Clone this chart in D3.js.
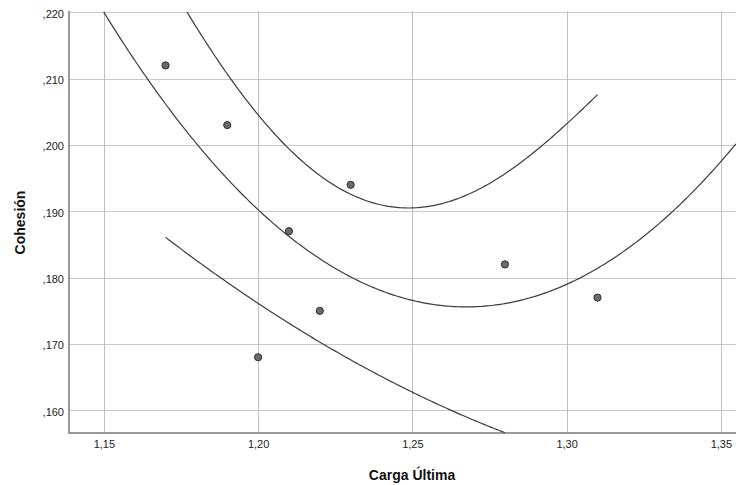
<!DOCTYPE html>
<html>
<head>
<meta charset="utf-8">
<script src="https://cdn.jsdelivr.net/npm/d3@7"></script>
<style>
  html, body { margin: 0; padding: 0; background: #fff; }
  svg { display: block; font-family: "Liberation Sans", Arial, sans-serif; }
</style>
</head>
<body>
<svg id="chart" width="736" height="485"></svg>
<script>
// Observations: Carga Última (x) vs Cohesión (y)
const cargaUltima = [1.17, 1.19, 1.20, 1.21, 1.22, 1.23, 1.28, 1.31];
const cohesion    = [0.212, 0.203, 0.168, 0.187, 0.175, 0.194, 0.182, 0.177];

// Upper reference curve (sampled values)
const upperX = [1.177, 1.191, 1.200, 1.209, 1.227, 1.248, 1.259, 1.275, 1.288, 1.300, 1.310];
const upperY = [0.2200, 0.2099, 0.2048, 0.1999, 0.1931, 0.1904, 0.1912, 0.1945, 0.1982, 0.2030, 0.2077];
const upperRange = [1.170, 1.310];

// Lower reference curve (sampled values)
const lowerX = [1.170, 1.187, 1.200, 1.219, 1.250, 1.262, 1.280];
const lowerY = [0.1863, 0.1799, 0.1761, 0.1707, 0.1629, 0.1600, 0.1566];
const lowerRange = [1.170, 1.280];

// Axis ticks
const xTicks = [1.15, 1.20, 1.25, 1.30, 1.35];
const xTickLabels = ["1,15", "1,20", "1,25", "1,30", "1,35"];
const yTicks = [0.160, 0.170, 0.180, 0.190, 0.200, 0.210, 0.220];
const yTickLabels = [",160", ",170", ",180", ",190", ",200", ",210", ",220"];

const xTitle = "Carga Última";
const yTitle = "Cohesión";

const svg = d3.select("#chart");
const plot = { left: 69, right: 736, top: 12, bottom: 433 };

const x = d3.scaleLinear().domain([1.1387, 1.3549]).range([plot.left, plot.right]);
const y = d3.scaleLinear().domain([0.15658, 0.22005]).range([plot.bottom, plot.top]);

svg.append("defs").append("clipPath").attr("id", "plotClip")
  .append("rect")
  .attr("x", plot.left).attr("y", plot.top)
  .attr("width", plot.right - plot.left).attr("height", plot.bottom - plot.top);

// Gridlines
const grid = svg.append("g");
grid.selectAll("line.h").data(yTicks).join("line")
  .attr("x1", plot.left).attr("x2", plot.right)
  .attr("y1", d => Math.round(y(d)) + 0.5).attr("y2", d => Math.round(y(d)) + 0.5)
  .attr("stroke", "#c8c8c8").attr("stroke-width", 1);
grid.selectAll("line.v").data(xTicks).join("line")
  .attr("y1", plot.top - 1).attr("y2", plot.bottom)
  .attr("x1", d => Math.round(x(d)) + 0.5).attr("x2", d => Math.round(x(d)) + 0.5)
  .attr("stroke", "#c0c0c0").attr("stroke-width", 1);

// Axes: tick labels from the axis generators, plain axis lines
const xAxis = d3.axisBottom(x).tickValues(xTicks)
  .tickFormat((d, i) => xTickLabels[i]).tickSize(0).tickPadding(7);
const yAxis = d3.axisLeft(y).tickValues(yTicks)
  .tickFormat((d, i) => yTickLabels[i]).tickSize(0).tickPadding(5);

const gx = svg.append("g").attr("transform", `translate(0,${plot.bottom})`).call(xAxis);
const gy = svg.append("g").attr("transform", `translate(${plot.left},0)`).call(yAxis);
[gx, gy].forEach(g => {
  g.select(".domain").remove();
  g.selectAll("text").attr("font-family", "Liberation Sans, Arial, sans-serif")
    .attr("font-size", 11).attr("fill", "#222");
});
gy.selectAll("text").attr("dy", "0.45em");

svg.append("line")
  .attr("x1", plot.left).attr("x2", plot.left)
  .attr("y1", plot.top - 1).attr("y2", plot.bottom + 1)
  .attr("stroke", "#9a9a9a").attr("stroke-width", 2);
svg.append("line")
  .attr("x1", plot.left - 1).attr("x2", plot.right)
  .attr("y1", plot.bottom).attr("y2", plot.bottom)
  .attr("stroke", "#9a9a9a").attr("stroke-width", 2);

// Polynomial least-squares fit of a given degree
function polyFit(xs, ys, degree) {
  const m = degree + 1, x0 = d3.mean(xs);
  const A = d3.range(m).map(() => new Array(m + 1).fill(0));
  xs.forEach((xv, i) => {
    const u = (xv - x0) * 100;
    for (let r = 0; r < m; r++) {
      for (let c = 0; c < m; c++) A[r][c] += Math.pow(u, r + c);
      A[r][m] += Math.pow(u, r) * ys[i];
    }
  });
  for (let c = 0; c < m; c++) {
    for (let r = c + 1; r < m; r++) {
      const f = A[r][c] / A[c][c];
      for (let k = c; k <= m; k++) A[r][k] -= f * A[c][k];
    }
  }
  const b = new Array(m).fill(0);
  for (let r = m - 1; r >= 0; r--) {
    let v = A[r][m];
    for (let k = r + 1; k < m; k++) v -= A[r][k] * b[k];
    b[r] = v / A[r][r];
  }
  return xv => { const u = (xv - x0) * 100; return b.reduce((s, bk, k) => s + bk * Math.pow(u, k), 0); };
}

const samples = (lo, hi, n) => d3.range(n + 1).map(i => lo + (hi - lo) * i / n);

const fitMain  = polyFit(cargaUltima, cohesion, 2);
const fitUpper = polyFit(upperX, upperY, 4);
const fitLower = polyFit(lowerX, lowerY, 2);

const curves = svg.append("g").attr("clip-path", "url(#plotClip)")
  .attr("fill", "none").attr("stroke", "#3c3c3c").attr("stroke-width", 1.2);

const drawFit = (f, xs) => curves.append("path")
  .attr("d", d3.line().x(d => x(d)).y(d => y(f(d)))(xs));

drawFit(fitMain, samples(x.domain()[0], x.domain()[1], 300));
drawFit(fitUpper, samples(upperRange[0], upperRange[1], 200));
drawFit(fitLower, samples(lowerRange[0], lowerRange[1], 200));

// Points
svg.append("g").selectAll("circle").data(d3.zip(cargaUltima, cohesion)).join("circle")
  .attr("cx", d => x(d[0])).attr("cy", d => y(d[1])).attr("r", 3.6)
  .attr("fill", "#6b6b6b").attr("stroke", "#2e2e2e").attr("stroke-width", 1);

// Axis titles
svg.append("text").attr("x", 412).attr("y", 480)
  .attr("text-anchor", "middle").attr("font-size", 14).attr("font-weight", "bold")
  .attr("fill", "#111").text(xTitle);
svg.append("text")
  .attr("transform", `translate(25,${(plot.top + plot.bottom) / 2}) rotate(-90)`)
  .attr("text-anchor", "middle").attr("font-size", 14).attr("font-weight", "bold")
  .attr("fill", "#111").text(yTitle);
</script>
</body>
</html>
